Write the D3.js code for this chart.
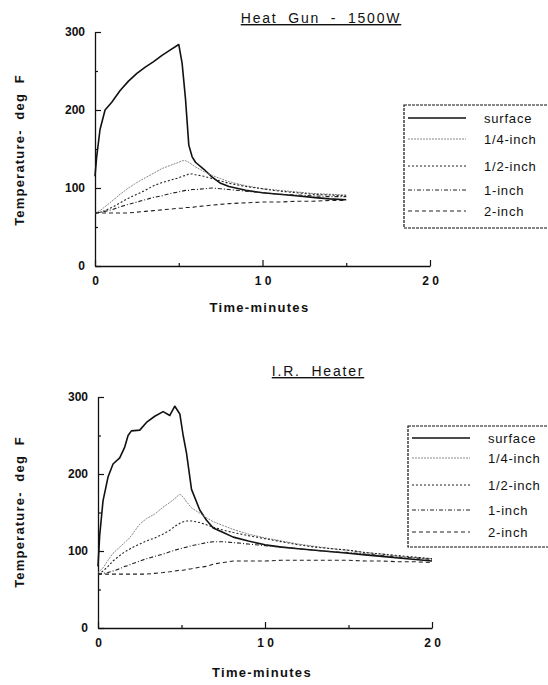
<!DOCTYPE html>
<html>
<head>
<meta charset="utf-8">
<script src="https://cdn.jsdelivr.net/npm/d3@7"></script>
<style>
  body { margin: 0; background: #fff; }
  svg { display: block; }
  text { font-family: "Liberation Sans", Arial, sans-serif; fill: #111; }
</style>
</head>
<body>
<div id="chart"></div>
<script>
// ---- data ----
const series_names = ["surface", "1/4-inch", "1/2-inch", "1-inch", "2-inch"];

// Heat Gun - 1500W (minutes / deg F)
const hg_time    = [0, 0.1, 0.3, 0.6, 1, 1.5, 2, 2.5, 3, 3.5, 4, 4.5, 5, 5.2, 5.4, 5.6, 5.8, 6, 6.5, 7, 7.5, 8, 9, 10, 11, 12, 13, 14, 15];
const hg_surface = [115, 140, 175, 200, 210, 225, 237, 247, 255, 262, 270, 277, 284, 260, 215, 155, 140, 133, 124, 114, 106, 102, 97, 94, 92, 90, 88, 86, 85];
const hg_quarter = [68, 69, 71, 76, 83, 92, 100, 107, 113, 119, 125, 129, 133, 135, 135, 133, 130, 127, 121, 116, 112, 108, 103, 99, 97, 95, 93, 92, 91];
const hg_half    = [68, 68, 69, 71, 75, 81, 87, 92, 97, 103, 107, 110, 113, 115, 116, 118, 118, 117, 115, 112, 109, 106, 102, 99, 96, 94, 92, 91, 90];
const hg_one     = [68, 68, 69, 70, 72, 76, 79, 82, 85, 88, 90, 93, 95, 96, 97, 97, 98, 98, 99, 100, 99, 98, 96, 94, 92, 91, 90, 89, 89];
const hg_two     = [68, 68, 68, 68, 68, 68, 68, 69, 70, 71, 72, 73, 74, 74, 75, 75, 75, 76, 77, 78, 79, 80, 81, 82, 82, 83, 83, 84, 84];

// I.R. Heater
const ir_time    = [0, 0.1, 0.3, 0.6, 0.9, 1.3, 1.6, 1.8, 2, 2.5, 2.9, 3.4, 3.9, 4.3, 4.6, 4.9, 5.1, 5.3, 5.6, 6.1, 6.5, 6.9, 7.5, 8.1, 9, 10, 11, 12, 13, 14, 15, 16, 17, 18, 19, 20];
const ir_surface = [80, 120, 165, 196, 213, 221, 235, 250, 256, 257, 267, 275, 281, 276, 288, 278, 250, 227, 180, 153, 140, 130, 124, 118, 113, 108, 105, 103, 101, 99, 97, 95, 93, 91, 89, 87];
const ir_quarter = [72, 74, 78, 88, 97, 105, 111, 115, 120, 135, 142, 148, 157, 163, 168, 174, 170, 164, 156, 149, 143, 138, 133, 128, 122, 117, 113, 109, 106, 103, 101, 98, 96, 93, 91, 90];
const ir_half    = [70, 71, 74, 80, 87, 94, 99, 101, 104, 109, 113, 117, 122, 127, 132, 136, 138, 139, 139, 137, 134, 131, 127, 124, 120, 116, 112, 108, 105, 103, 101, 98, 96, 94, 92, 90];
const ir_one     = [70, 70, 71, 72, 74, 77, 80, 81, 83, 87, 90, 93, 96, 99, 101, 103, 104, 105, 107, 109, 111, 112, 112, 111, 109, 107, 105, 103, 101, 99, 98, 96, 94, 92, 91, 89];
const ir_two     = [70, 70, 70, 70, 70, 70, 70, 70, 70, 70, 70, 71, 72, 73, 74, 75, 75, 76, 77, 79, 80, 83, 85, 87, 87, 87, 88, 88, 88, 88, 88, 87, 87, 86, 86, 85];

const y_ticks = [0, 100, 200, 300];
const y_minor = [50, 150, 250];
const x_ticks = [0, 10, 20];
const x_minor = [5, 15];

// line styles, one per series
const styles = [
    {stroke: "#111", width: 1.6, dash: null},
    {stroke: "#888", width: 1.0, dash: "2,1"},
    {stroke: "#222", width: 1.1, dash: "2,2"},
    {stroke: "#222", width: 1.1, dash: "4,2,1,2"},
    {stroke: "#222", width: 1.1, dash: "4,3"}
];

const svg = d3.select("#chart")
    .append("svg")
    .attr("width", 548)
    .attr("height", 685);

function draw_panel(p) {
    let g = svg.append("g");

    let xScale = d3.scaleLinear().domain([0, 20]).range([p.left, p.right]);
    let yScale = d3.scaleLinear().domain([0, 300]).range([p.bottom, p.top]);

    // title
    g.append("text")
     .attr("x", p.title_x)
     .attr("y", p.title_y)
     .attr("text-anchor", "middle")
     .attr("font-size", "14px")
     .attr("letter-spacing", "1.8px")
     .attr("word-spacing", "5px")
     .attr("text-decoration", "underline")
     .text(p.title);

    // axes (ticks point inward)
    g.append("g")
        .attr("transform", "translate(0," + p.bottom + ")")
        .call(d3.axisBottom(xScale)
            .tickValues(x_ticks)
            .tickSizeInner(-6)
            .tickSizeOuter(0)
            .tickPadding(10)
            .tickFormat(function(d) { return String(d).split("").join(" "); }));
    g.append("g")
        .attr("transform", "translate(0," + p.bottom + ")")
        .call(d3.axisBottom(xScale).tickValues(x_minor).tickSize(-3).tickFormat(""))
        .select(".domain").remove();

    g.append("g")
        .attr("transform", "translate(" + p.left + ",0)")
        .call(d3.axisLeft(yScale)
            .tickValues(y_ticks)
            .tickSizeInner(-6)
            .tickSizeOuter(0)
            .tickPadding(10));
    g.append("g")
        .attr("transform", "translate(" + p.left + ",0)")
        .call(d3.axisLeft(yScale).tickValues(y_minor).tickSize(-3).tickFormat(""))
        .select(".domain").remove();

    g.selectAll(".domain").attr("stroke", "#111").attr("stroke-width", 1.3);
    g.selectAll(".tick line").attr("stroke", "#111").attr("stroke-width", 1.2);
    g.selectAll(".tick text")
     .attr("font-family", "Liberation Sans, Arial, sans-serif")
     .attr("font-size", "12px")
     .attr("font-weight", "bold")
     .attr("fill", "#111");

    // axis labels
    g.append("text")
     .attr("x", (p.left + p.right) / 2 - 3)
     .attr("y", p.xlabel_y)
     .attr("text-anchor", "middle")
     .attr("font-size", "13px")
     .attr("font-weight", "bold")
     .attr("letter-spacing", "1.3px")
     .text("Time-minutes");

    g.append("text")
     .attr("transform", "translate(" + 24 + "," + p.ylabel_y + ") rotate(-90)")
     .attr("text-anchor", "middle")
     .attr("font-size", "13px")
     .attr("font-weight", "bold")
     .attr("letter-spacing", "1.2px")
     .style("white-space", "pre")
     .text("Temperature-  deg  F");

    // curves
    let line = d3.line()
        .x(function(d) { return xScale(d[0]); })
        .y(function(d) { return yScale(d[1]); });

    for (let i = 0; i < p.values.length; i++) {
        let pts = p.time.map(function(t, j) { return [t, p.values[i][j]]; });
        g.append("path")
         .datum(pts)
         .attr("fill", "none")
         .attr("stroke", styles[i].stroke)
         .attr("stroke-width", styles[i].width)
         .attr("stroke-dasharray", styles[i].dash)
         .attr("stroke-linejoin", "round")
         .attr("d", line);
    }

    // legend
    let lg = g.append("g");
    lg.append("rect")
      .attr("x", p.leg_x)
      .attr("y", p.leg_y)
      .attr("width", 200)
      .attr("height", p.leg_h)
      .attr("fill", "white")
      .attr("stroke", "#111")
      .attr("stroke-width", 1.2)
      .attr("stroke-dasharray", "3,1");

    for (let i = 0; i < series_names.length; i++) {
        let yy = p.leg_rows[i];
        lg.append("line")
          .attr("x1", p.leg_x + 4)
          .attr("x2", p.leg_x + 62)
          .attr("y1", yy)
          .attr("y2", yy)
          .attr("stroke", styles[i].stroke)
          .attr("stroke-width", styles[i].width)
          .attr("stroke-dasharray", styles[i].dash);
        lg.append("text")
          .attr("x", p.leg_x + 80)
          .attr("y", yy)
          .attr("dy", "0.35em")
          .attr("font-size", "13px")
          .attr("letter-spacing", "0.8px")
          .attr("fill", "#222")
          .text(series_names[i]);
    }
}

draw_panel({
    title: "Heat Gun - 1500W", title_x: 321, title_y: 23,
    left: 95, right: 430, top: 32, bottom: 266,
    xlabel_y: 312, ylabel_y: 150,
    time: hg_time,
    values: [hg_surface, hg_quarter, hg_half, hg_one, hg_two],
    leg_x: 404, leg_y: 105, leg_h: 123,
    leg_rows: [118, 139, 166, 190, 211]
});

draw_panel({
    title: "I.R. Heater", title_x: 318, title_y: 376,
    left: 98, right: 432, top: 397, bottom: 628,
    xlabel_y: 677, ylabel_y: 512,
    time: ir_time,
    values: [ir_surface, ir_quarter, ir_half, ir_one, ir_two],
    leg_x: 408, leg_y: 426, leg_h: 121,
    leg_rows: [438, 458, 485, 510, 532]
});
</script>
</body>
</html>
